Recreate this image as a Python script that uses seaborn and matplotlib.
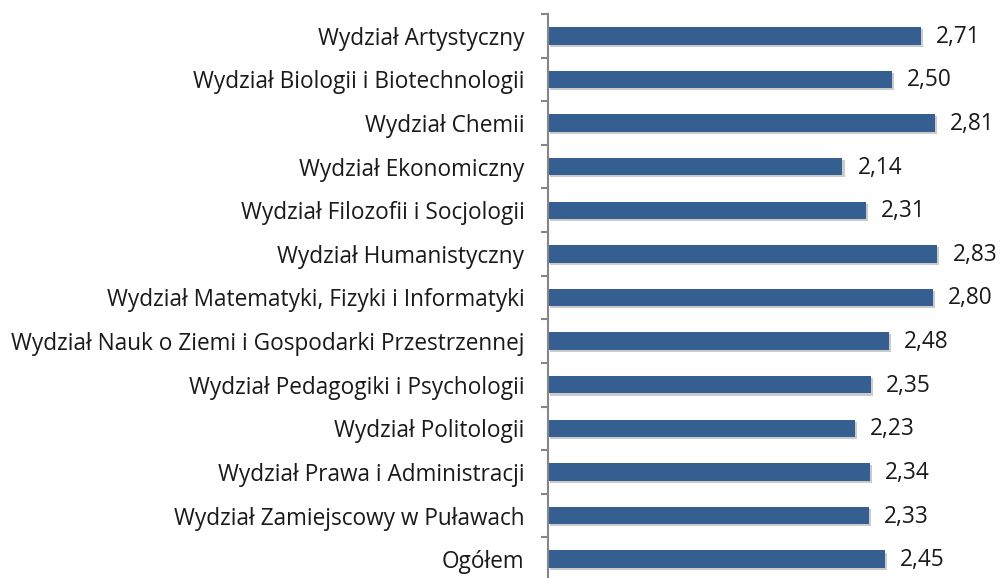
import numpy as np
import pandas as pd
import matplotlib
matplotlib.use('Agg')
import matplotlib.pyplot as plt
import matplotlib.patheffects as pe
from matplotlib.ticker import FixedLocator
import seaborn as sns

# Data
wydzialy = [
    'Wydział Artystyczny',
    'Wydział Biologii i Biotechnologii',
    'Wydział Chemii',
    'Wydział Ekonomiczny',
    'Wydział Filozofii i Socjologii',
    'Wydział Humanistyczny',
    'Wydział Matematyki, Fizyki i Informatyki',
    'Wydział Nauk o Ziemi i Gospodarki Przestrzennej',
    'Wydział Pedagogiki i Psychologii',
    'Wydział Politologii',
    'Wydział Prawa i Administracji',
    'Wydział Zamiejscowy w Puławach',
    'Ogółem',
]
oceny = [2.71, 2.50, 2.81, 2.14, 2.31, 2.83, 2.80, 2.48, 2.35, 2.23, 2.34, 2.33, 2.45]

data = pd.DataFrame({'wydzial': wydzialy, 'ocena': oceny})

sns.set_style('white')
plt.rcParams['font.family'] = ['Open Sans', 'DejaVu Sans']

fig = plt.figure(figsize=(10, 5.78), dpi=100)
ax = fig.add_axes([0.548, -0.0052, 0.452, 0.981])

bar_color = '#365F91'
sns.barplot(data=data, x='ocena', y='wydzial', color=bar_color, width=0.4,
            saturation=1, linewidth=0, ax=ax, orient='h')

# soft drop shadow like the original
for bar in ax.patches:
    bar.set_path_effects([pe.SimplePatchShadow(offset=(1.5, -1.5), alpha=0.3,
                                               shadow_rgbFace='#555555'),
                          pe.Normal()])

# Value labels with decimal comma
for i, v in enumerate(oceny):
    ax.annotate(f'{v:.2f}'.replace('.', ','), xy=(v, i), xytext=(15, -1),
                textcoords='offset pixels', va='center', ha='left',
                fontsize=16.3, color='#1a1a1a')

ax.set_xlim(0, 3.285)
ax.set_ylim(len(wydzialy) - 0.5, -0.5)
ax.set_xlabel('')
ax.set_ylabel('')
ax.set_xticks([])

for s in ['top', 'right', 'bottom']:
    ax.spines[s].set_visible(False)
ax.spines['left'].set_color('#868686')
ax.spines['left'].set_linewidth(1.5)

ax.yaxis.set_minor_locator(FixedLocator(np.arange(-0.5, len(wydzialy), 1.0)))
ax.tick_params(axis='y', which='major', length=0, pad=17, labelsize=16.3,
               labelcolor='#1a1a1a')
ax.tick_params(axis='y', which='minor', length=5, width=1.5, color='#868686',
               direction='out', left=True)

plt.savefig('out.png', dpi=100)
